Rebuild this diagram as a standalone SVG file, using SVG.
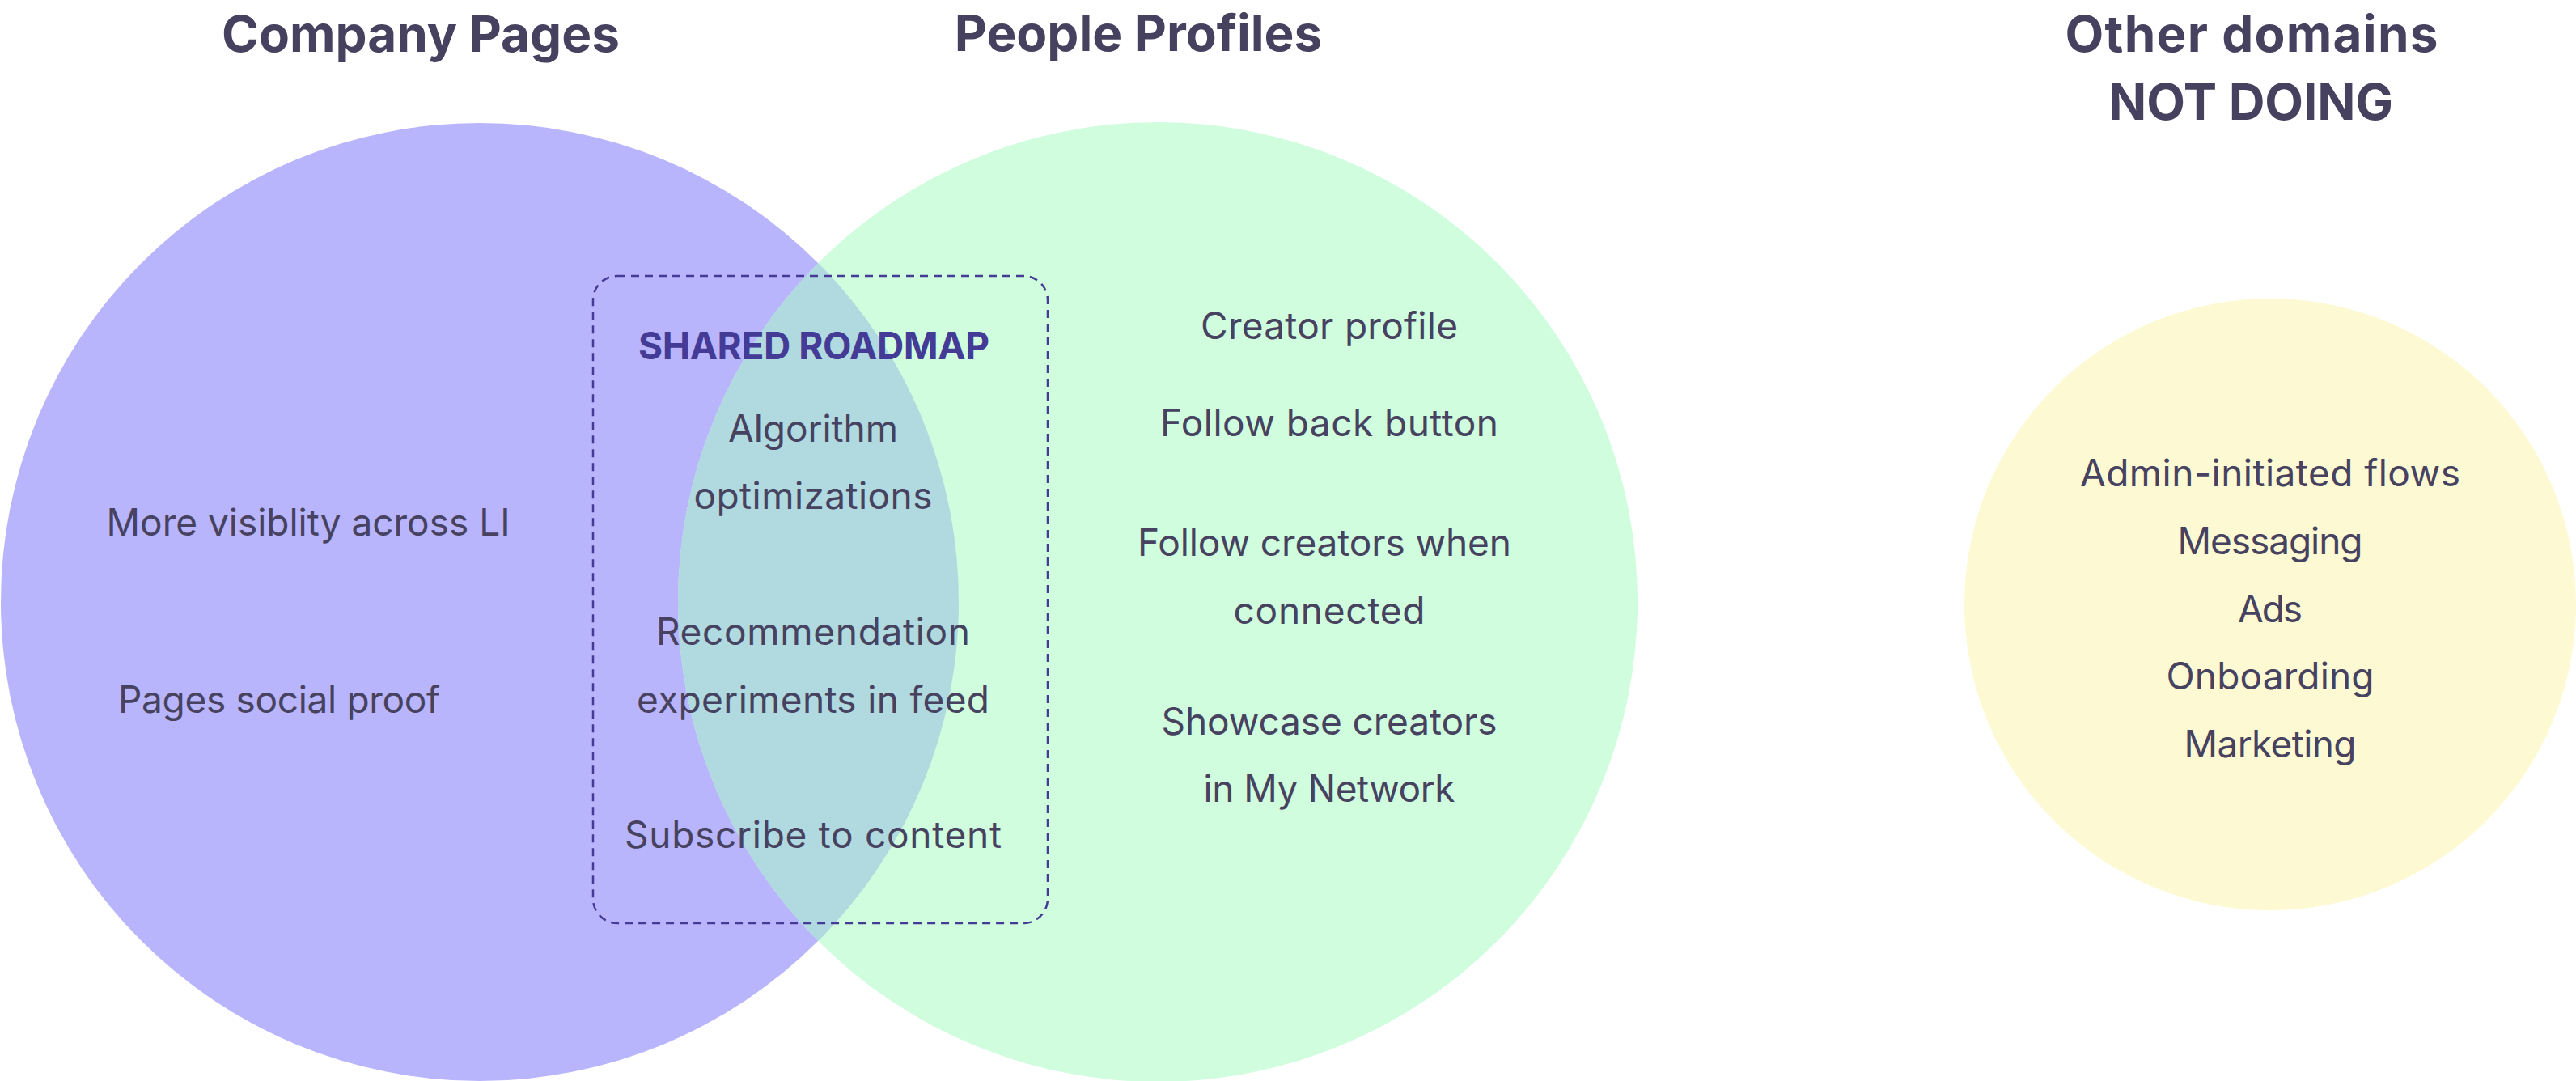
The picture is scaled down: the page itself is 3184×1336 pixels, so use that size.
<svg xmlns="http://www.w3.org/2000/svg" width="3184" height="1336" viewBox="0 0 3184 1336">
<style>
.title{font-family:Inter,"Liberation Sans",sans-serif;font-weight:700;font-size:62px;fill:#46415e;text-anchor:middle}
.body{font-family:Inter,"Liberation Sans",sans-serif;font-weight:400;font-size:46px;fill:#46425f;text-anchor:middle}
.shared{font-family:Inter,"Liberation Sans",sans-serif;font-weight:700;font-size:46px;fill:#433b95;text-anchor:middle}
</style>
<defs>
<clipPath id="clipLeft"><circle cx="593" cy="744" r="592"/></clipPath>
</defs>
<rect width="3184" height="1336" fill="#ffffff"/>
<g id="company-pages">
<circle cx="593" cy="744" r="592" fill="#b9b5fc"/>
</g>
<g id="people-profiles">
<circle cx="1431" cy="744" r="593" fill="#cffddd"/>
<circle cx="1431" cy="744" r="593" fill="#b0dadf" clip-path="url(#clipLeft)"/>
</g>
<g id="other-domains">
<circle cx="2806" cy="747" r="378" fill="#fdfad3"/>
</g>
<g id="titles">
<text class="title" x="520" y="64">Company Pages</text>
<text class="title" x="1407" y="63">People Profiles</text>
<text class="title" x="2783" y="64" textLength="461">Other domains</text>
<text class="title" x="2782" y="148" textLength="352">NOT DOING</text>
</g>
<g id="company-items">
<text class="body" x="381" y="662" textLength="499">More visiblity across LI</text>
<text class="body" x="345" y="881" textLength="398">Pages social proof</text>
</g>
<g id="shared-roadmap">
<rect x="733" y="341" width="562" height="800" rx="30" ry="30" fill="none" stroke="#433b95" stroke-width="2.5" stroke-dasharray="10 7"/>
<text class="shared" x="1006" y="444" textLength="434">SHARED ROADMAP</text>
<text class="body" x="1005" y="546" textLength="210">Algorithm</text>
<text class="body" x="1005" y="629" textLength="295">optimizations</text>
<text class="body" x="1005" y="797" textLength="388">Recommendation</text>
<text class="body" x="1005" y="881" textLength="436">experiments in feed</text>
<text class="body" x="1005" y="1048" textLength="466">Subscribe to content</text>
</g>
<g id="people-items">
<text class="body" x="1643" y="419" textLength="318">Creator profile</text>
<text class="body" x="1643" y="539" textLength="418">Follow back button</text>
<text class="body" x="1637" y="687" textLength="462">Follow creators when</text>
<text class="body" x="1643" y="771" textLength="237">connected</text>
<text class="body" x="1643" y="908" textLength="415">Showcase creators</text>
<text class="body" x="1643" y="991" textLength="311">in My Network</text>
</g>
<g id="other-items">
<text class="body" x="2806" y="601" textLength="470">Admin-initiated flows</text>
<text class="body" x="2806" y="685" textLength="229">Messaging</text>
<text class="body" x="2806" y="769" textLength="80">Ads</text>
<text class="body" x="2806" y="852" textLength="257">Onboarding</text>
<text class="body" x="2806" y="936" textLength="213">Marketing</text>
</g>
</svg>
